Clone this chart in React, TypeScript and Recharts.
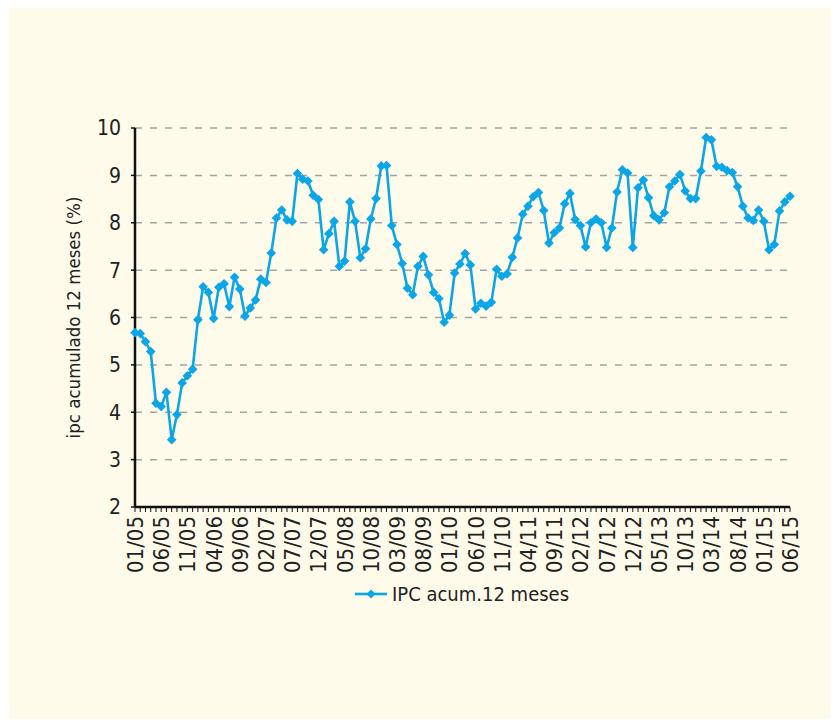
import { LineChart, Line, XAxis, YAxis, CartesianGrid, Legend, Label } from "recharts";

// months from 01/05 to 06/15
const months: string[] = [];
for (let y = 5; y <= 15; y++) {
  for (let m = 1; m <= 12; m++) {
    if (y === 15 && m > 6) break;
    months.push(`${String(m).padStart(2, "0")}/${String(y).padStart(2, "0")}`);
  }
}

const ipc = [
  5.68, 5.66, 5.49, 5.28, 4.19, 4.12, 4.42, 3.42, 3.95, 4.62, 4.77, 4.91,
  5.95, 6.65, 6.53, 5.98, 6.64, 6.71, 6.23, 6.85, 6.6, 6.03, 6.2, 6.37,
  6.81, 6.74, 7.36, 8.1, 8.27, 8.06, 8.03, 9.04, 8.92, 8.88, 8.58, 8.49,
  7.43, 7.77, 8.03, 7.08, 7.19, 8.44, 8.03, 7.26, 7.45, 8.08, 8.51, 9.2,
  9.21, 7.94, 7.54, 7.14, 6.62, 6.48, 7.08, 7.29, 6.9, 6.53, 6.4, 5.9,
  6.05, 6.94, 7.13, 7.35, 7.11, 6.18, 6.3, 6.24, 6.32, 7.02, 6.87, 6.92,
  7.27, 7.68, 8.18, 8.35, 8.55, 8.64, 8.26, 7.57, 7.79, 7.89, 8.4, 8.62,
  8.07, 7.94, 7.49, 8.0, 8.08, 8.0, 7.48, 7.89, 8.65, 9.12, 9.05, 7.48,
  8.74, 8.9, 8.53, 8.15, 8.06, 8.21, 8.76, 8.88, 9.02, 8.67, 8.51, 8.51,
  9.09, 9.8, 9.75, 9.19, 9.17, 9.1, 9.06, 8.76, 8.35, 8.1, 8.05, 8.27,
  8.03, 7.43, 7.54, 8.25, 8.44, 8.56,
];

const tickLabels = [
  "01/05", "06/05", "11/05", "04/06", "09/06", "02/07", "07/07", "12/07", "05/08",
  "10/08", "03/09", "08/09", "01/10", "06/10", "11/10", "04/11", "09/11", "02/12",
  "07/12", "12/12", "05/13", "10/13", "03/14", "08/14", "01/15", "06/15",
];

const yTicks = [2, 3, 4, 5, 6, 7, 8, 9, 10];

const data = months.map((m, i) => ({ m, v: ipc[i] }));

const BLUE = "#0aa6e8";
const FONT = "'Liberation Sans Narrow', 'DejaVu Sans Condensed', 'Roboto Condensed', sans-serif";

function MonthTick(props: any) {
  const { x, y, payload } = props;
  if (!tickLabels.includes(payload.value)) return null;
  return (
    <text
      x={x}
      y={y}
      transform={`rotate(-90, ${x}, ${y})`}
      textAnchor="end"
      dy="0.36em"
      fontSize={22}
      fontFamily={FONT}
      fill="#222"
    >
      {payload.value}
    </text>
  );
}

function Diamond(props: any) {
  const { cx, cy } = props;
  if (cx == null || cy == null) return null;
  const r = 4.8;
  return (
    <polygon
      points={`${cx},${cy - r} ${cx + r},${cy} ${cx},${cy + r} ${cx - r},${cy}`}
      fill={BLUE}
    />
  );
}

function LegendBox() {
  return (
    <div style={{ display: "flex", alignItems: "center", fontFamily: FONT, fontSize: 20, color: "#222" }}>
      <svg width={38} height={14} style={{ marginRight: 3 }}>
        <line x1={4} y1={7} x2={36} y2={7} stroke={BLUE} strokeWidth={2.6} />
        <polygon points="20,2.5 24.5,7 20,11.5 15.5,7" fill={BLUE} />
      </svg>
      <span>IPC acum.12 meses</span>
    </div>
  );
}

export default function App() {
  return (
    <div style={{ position: "relative", width: 840, height: 727, margin: -8, background: "#fff" }}>
      <div
        style={{ position: "absolute", left: 9, top: 8, width: 822, height: 712, background: "#fefbea" }}
      />
      <div style={{ position: "absolute", left: 0, top: 0 }}>
        <LineChart
          width={840}
          height={727}
          data={data}
          margin={{ top: 128, right: 50, bottom: 150, left: 65 }}
        >
          <CartesianGrid vertical={false} stroke="#a3a3a3" strokeWidth={1.5} strokeDasharray="7 8" />
          <XAxis
            dataKey="m"
            interval={0}
            tick={<MonthTick />}
            tickSize={5}
            tickMargin={4}
            height={70}
            axisLine={{ stroke: "#111", strokeWidth: 2.5 }}
            tickLine={{ stroke: "#111", strokeWidth: 1 }}
          />
          <YAxis
            domain={[2, 10]}
            ticks={yTicks}
            interval={0}
            width={70}
            tickSize={4}
            tickMargin={10}
            axisLine={{ stroke: "#111", strokeWidth: 2.5 }}
            tickLine={{ stroke: "#111", strokeWidth: 1.5 }}
            tick={{ fontSize: 21, fill: "#222", fontFamily: FONT }}
          >
            <Label
              value="ipc acumulado 12 meses (%)"
              angle={-90}
              position="insideLeft"
              offset={8}
              style={{ fontSize: 18.5, fill: "#222", fontFamily: FONT, textAnchor: "middle" }}
            />
          </YAxis>
          <Legend
            layout="horizontal"
            verticalAlign="middle"
            align="center"
            wrapperStyle={{ top: 582, left: 351, width: 260 }}
            content={() => <LegendBox />}
          />
          <Line
            type="linear"
            dataKey="v"
            name="IPC acum.12 meses"
            stroke={BLUE}
            strokeWidth={2.6}
            dot={<Diamond />}
            activeDot={false}
            isAnimationActive={false}
          />
        </LineChart>
      </div>
    </div>
  );
}
